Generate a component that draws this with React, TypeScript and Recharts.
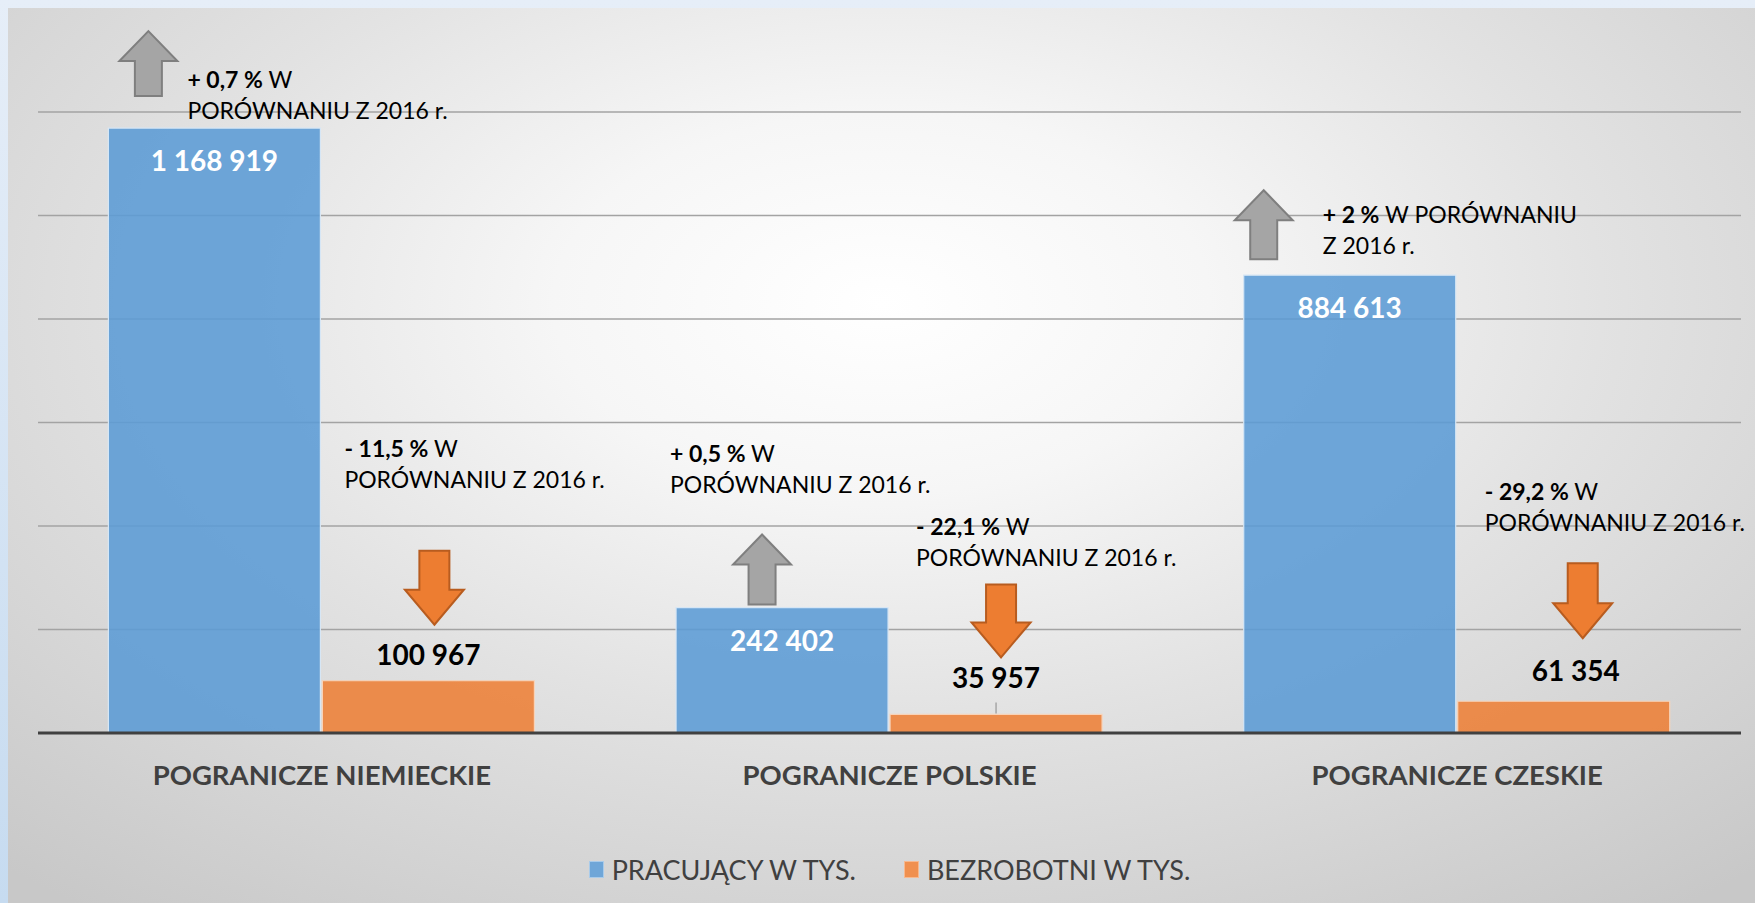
import { BarChart, Bar, XAxis, YAxis, CartesianGrid, LabelList, Legend } from "recharts";

const categories = ["POGRANICZE NIEMIECKIE", "POGRANICZE POLSKIE", "POGRANICZE CZESKIE"];
const employed = [1168919, 242402, 884613];
const unemployed = [100967, 35957, 61354];
const employedChange = ["+ 0,7 %", "+ 0,5 %", "+ 2 %"];
const employedNoteRest = [" W", " W", " W PORÓWNANIU"];
const employedNoteLine2 = ["PORÓWNANIU Z 2016 r.", "PORÓWNANIU Z 2016 r.", "Z 2016 r."];
const unemployedChange = ["- 11,5 %", "- 22,1 %", "- 29,2 %"];
const unemployedNoteRest = [" W", " W", " W"];
const unemployedNoteLine2 = ["PORÓWNANIU Z 2016 r.", "PORÓWNANIU Z 2016 r.", "PORÓWNANIU Z 2016 r."];
const seriesNames = ["PRACUJĄCY W TYS.", "BEZROBOTNI W TYS."];
const yTicks = [0, 200000, 400000, 600000, 800000, 1000000, 1200000];

// annotation placement relative to each bar (px)
const employedLayout = [
  { arrowX: 40, arrowTip: -97, arrowBase: -32, textX: 79, textY: -49 },
  { arrowX: 86, arrowTip: -73, arrowBase: -3, textX: -6, textY: -155 },
  { arrowX: 20, arrowTip: -85, arrowBase: -16, textX: 79, textY: -61 },
];
const unemployedLayout = [
  { arrowX: 112, arrowTop: -130, arrowTip: -56, textX: 22, textY: -233, labelY: -27, labelX: 0, leader: false },
  { arrowX: 111, arrowTop: -130, arrowTip: -57, textX: 26, textY: -188, labelY: -37, labelX: 0, leader: true },
  { arrowX: 125, arrowTop: -138, arrowTip: -63, textX: 27, textY: -210, labelY: -31, labelX: 12, leader: false },
];

const data = categories.map((name, i) => ({
  name,
  employed: employed[i],
  unemployed: unemployed[i],
}));

const FONT = "Lato, 'Open Sans', sans-serif";
const LINE_H = 31;

const fmt = (v: number) => String(v).replace(/\B(?=(\d{3})+(?!\d))/g, " ");

function arrowPoints(cx: number, tip: number, base: number, headW: number, shaftW: number, headH: number) {
  const dir = base > tip ? 1 : -1;
  const hb = tip + dir * headH;
  return [
    [cx, tip],
    [cx + headW / 2, hb],
    [cx + shaftW / 2, hb],
    [cx + shaftW / 2, base],
    [cx - shaftW / 2, base],
    [cx - shaftW / 2, hb],
    [cx - headW / 2, hb],
  ]
    .map((p) => p.join(","))
    .join(" ");
}

function Note({ x, y, bold, rest, line2 }: any) {
  return (
    <g fontFamily={FONT} fontSize={23} fill="#000">
      <text x={x} y={y} dominantBaseline="central">
        <tspan fontWeight={700}>{bold}</tspan>
        <tspan>{rest}</tspan>
      </text>
      <text x={x} y={y + LINE_H} dominantBaseline="central">
        {line2}
      </text>
    </g>
  );
}

const EmployedLabel = (props: any) => {
  const vb = props.viewBox ?? props;
  const { x, y, width } = vb;
  const i = props.index;
  const l = employedLayout[i];
  return (
    <g>
      <polygon
        points={arrowPoints(x + l.arrowX, y + l.arrowTip, y + l.arrowBase, 58, 27, 30)}
        fill="#a5a5a5"
        stroke="#7f7f7f"
        strokeWidth={2}
      />
      <Note x={x + l.textX} y={y + l.textY} bold={employedChange[i]} rest={employedNoteRest[i]} line2={employedNoteLine2[i]} />
      <text
        x={x + width / 2}
        y={y + 32}
        textAnchor="middle"
        dominantBaseline="central"
        fontFamily={FONT}
        fontWeight={700}
        fontSize={28}
        fill="#fff"
      >
        {fmt(props.value)}
      </text>
    </g>
  );
};

const UnemployedLabel = (props: any) => {
  const vb = props.viewBox ?? props;
  const { x, y, width } = vb;
  const i = props.index;
  const l = unemployedLayout[i];
  return (
    <g>
      <polygon
        points={arrowPoints(x + l.arrowX, y + l.arrowTip, y + l.arrowTop, 59, 30, 35)}
        fill="#ed7d31"
        stroke="#b85c1f"
        strokeWidth={2}
      />
      <Note x={x + l.textX} y={y + l.textY} bold={unemployedChange[i]} rest={unemployedNoteRest[i]} line2={unemployedNoteLine2[i]} />
      {l.leader && <line x1={x + width / 2} x2={x + width / 2} y1={y - 12} y2={y - 1} stroke="#a6a6a6" strokeWidth={1.5} />}
      <text
        x={x + width / 2 + l.labelX}
        y={y + l.labelY}
        textAnchor="middle"
        dominantBaseline="central"
        fontFamily={FONT}
        fontWeight={700}
        fontSize={28}
        fill="#000"
      >
        {fmt(props.value)}
      </text>
    </g>
  );
};

const CategoryTick = ({ x, y, payload }: any) => (
  <text
    x={x}
    y={y + 33}
    textAnchor="middle"
    dominantBaseline="central"
    fontFamily={FONT}
    fontWeight={700}
    fontSize={27.5}
    fill="#404040"
  >
    {payload.value}
  </text>
);

const LegendContent = () => {
  const colors = ["#6fa6d8", "#f0904f"];
  const borders = ["#a9cbea", "#f7b98f"];
  return (
    <div style={{ height: 36, display: "flex", justifyContent: "center", alignItems: "center", gap: 48 }}>
      {seriesNames.map((n, i) => (
        <div key={n} style={{ display: "flex", alignItems: "center", gap: 8 }}>
          <div style={{ width: 13, height: 15, background: colors[i], border: `1px solid ${borders[i]}` }} />
          <span style={{ fontFamily: FONT, fontSize: 27, color: "#404040" }}>{n}</span>
        </div>
      ))}
    </div>
  );
};

export default function App() {
  return (
    <div
      style={{
        position: "absolute",
        left: 0,
        top: 0,
        width: 1755,
        height: 903,
        background: "linear-gradient(to bottom, #e6eef8, #c6dbf0)",
        overflow: "hidden",
      }}
    >
      <div
        style={{
          position: "absolute",
          left: 8,
          top: 8,
          width: 1747,
          height: 895,
          background:
            "radial-gradient(ellipse 75% 85% at 50% 33%, #ffffff 0%, #f6f6f6 25%, #e2e2e2 55%, #c8c8c8 100%)",
        }}
      />
      <div style={{ position: "absolute", left: 0, top: 0 }}>
        <BarChart
          width={1755}
          height={903}
          data={data}
          margin={{ top: 112, right: 14, left: 38, bottom: 16 }}
          barCategoryGap="12.4%"
          barGap={2}
        >
          <CartesianGrid vertical={false} stroke="#a3a3a3" strokeWidth={1.3} />
          <YAxis hide domain={[0, 1200000]} ticks={yTicks} />
          <XAxis
            dataKey="name"
            axisLine={{ stroke: "#404040", strokeWidth: 3 }}
            tickLine={false}
            tick={<CategoryTick />}
            height={118}
            interval={0}
          />
          <Legend verticalAlign="bottom" content={<LegendContent />} />
          <Bar
            dataKey="employed"
            name={seriesNames[0]}
            fill="#5b9bd5"
            fillOpacity={0.88}
            stroke="#d6e6f5"
            strokeWidth={1.2}
            isAnimationActive={false}
          >
            <LabelList dataKey="employed" content={<EmployedLabel />} />
          </Bar>
          <Bar
            dataKey="unemployed"
            name={seriesNames[1]}
            fill="#ed7d31"
            fillOpacity={0.85}
            stroke="#f8d3b9"
            strokeWidth={1.2}
            isAnimationActive={false}
          >
            <LabelList dataKey="unemployed" content={<UnemployedLabel />} />
          </Bar>
        </BarChart>
      </div>
    </div>
  );
}
